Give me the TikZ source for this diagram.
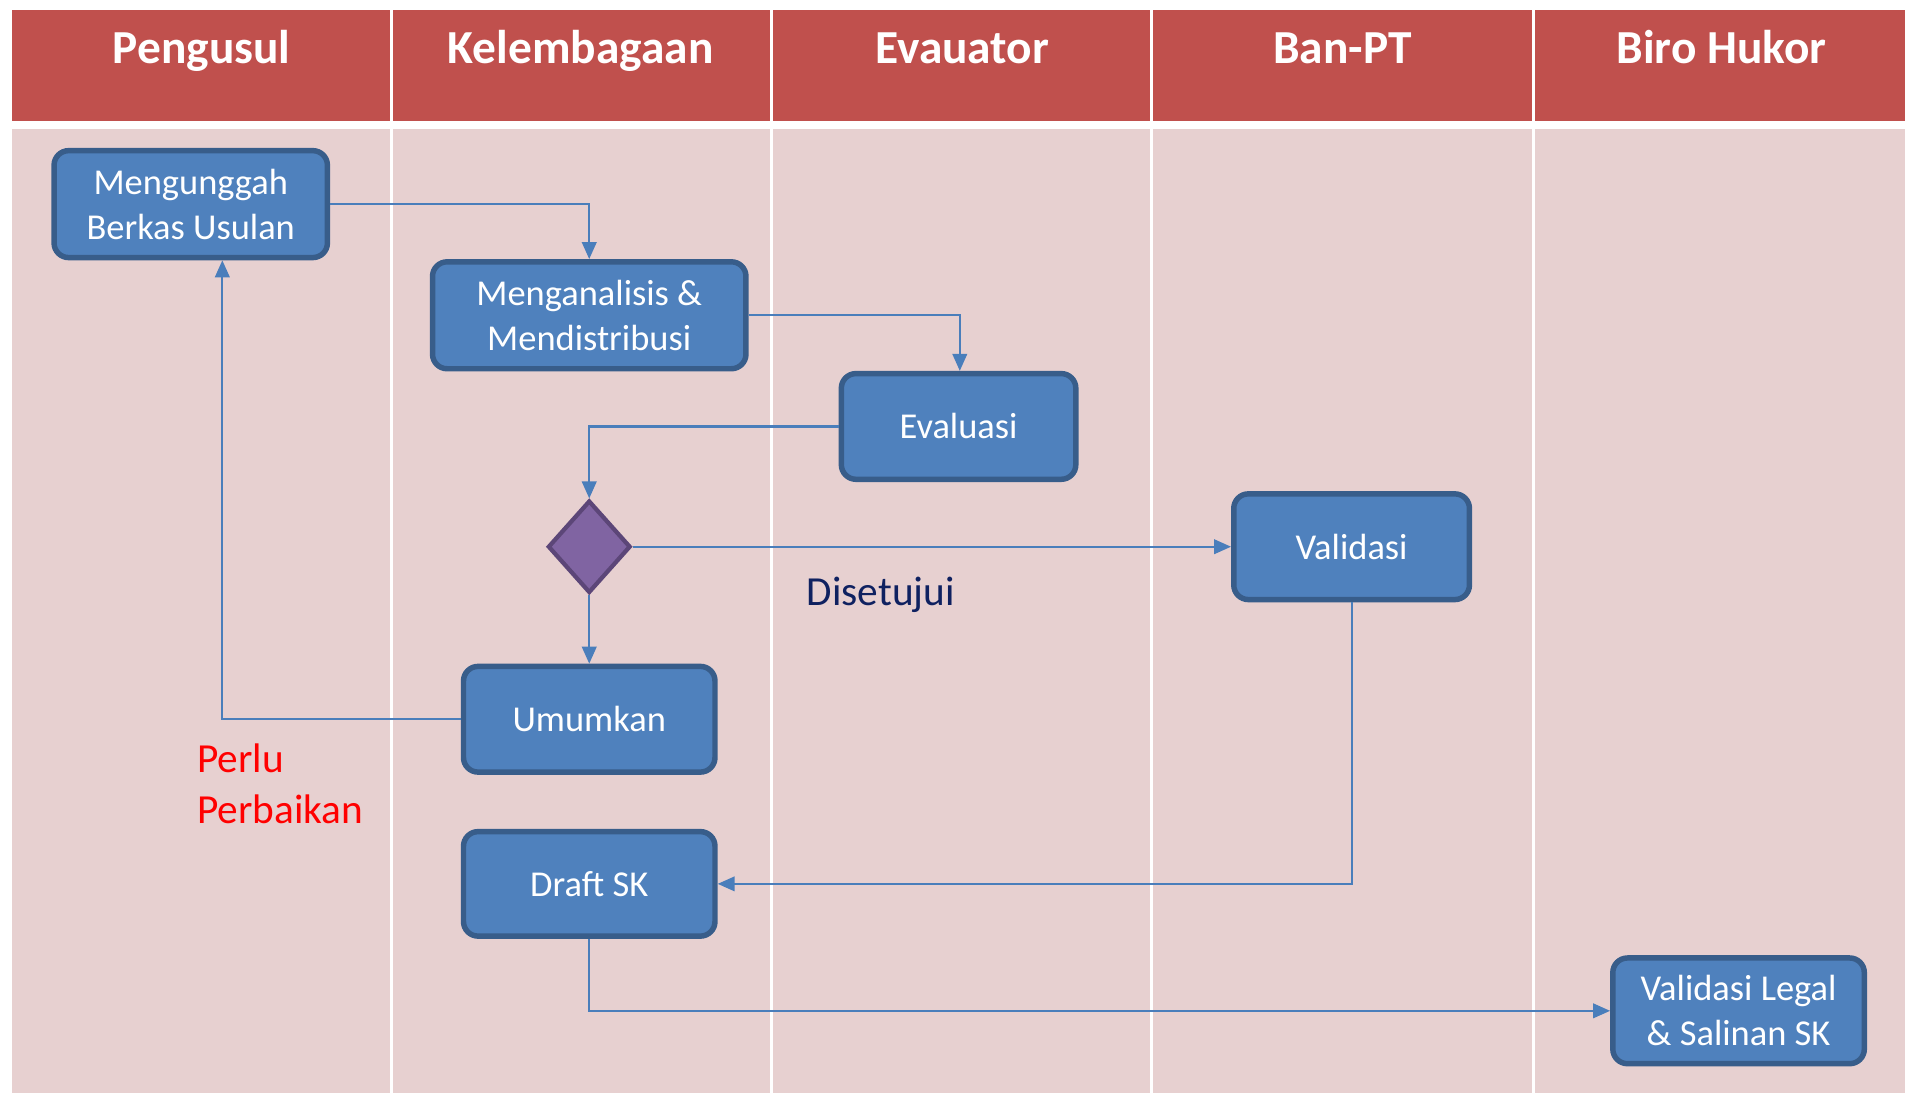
\documentclass[tikz,border=0pt]{standalone}
\usepackage{fontspec}
\setmainfont{Carlito}
\usepackage{xcolor}
\usetikzlibrary{shapes.geometric,arrows.meta,calc}
\definecolor{laneRed}{HTML}{C0504D}
\definecolor{lanePink}{HTML}{E7D0D0}
\definecolor{boxFill}{HTML}{4F81BD}
\definecolor{boxLine}{HTML}{385D8A}
\definecolor{diaFill}{HTML}{8064A2}
\definecolor{diaLine}{HTML}{5C4678}
\definecolor{flowLine}{HTML}{4A7EBB}
\definecolor{navyText}{HTML}{0F2160}
\tikzset{
    procbox/.style={draw=boxLine, fill=boxFill, rounded corners=12pt, line width=4.5pt,
        text=white, font=\fontsize{30}{37}\selectfont, align=center, inner sep=0pt},
    flow/.style={draw=flowLine, line width=1.8pt, -{Triangle[length=14pt,width=12pt]}},
    lanetitle/.style={text=white, font=\fontsize{39}{45}\selectfont\bfseries, anchor=base}
}
\begin{document}
\begin{tikzpicture}[x=1pt,y=-1pt]
        \useasboundingbox (0,0) rectangle (1568,900);
        \fill[laneRed] (10,8) rectangle (1568,100);
        \fill[lanePink] (10,106) rectangle (1568,900);
        \foreach \x in {322, 635, 948, 1262} {
            \draw[white, line width=2.5pt] (\x,8) -- (\x,900);
        }
        \node[lanetitle] (tPengusul) at (166,52) {Pengusul};
        \node[lanetitle] (tKelembagaan) at (478,52) {Kelembagaan};
        \node[lanetitle] (tEvauator) at (792,52) {Evauator};
        \node[lanetitle] (tBanpt) at (1105,52) {Ban-PT};
        \node[lanetitle] (tBiro) at (1417,52) {Biro Hukor};

        \node[procbox, minimum width=225pt, minimum height=88pt] (unggah) at (157,168) {Mengunggah\\Berkas Usulan};
        \node[procbox, minimum width=258pt, minimum height=88pt] (analisis) at (485,259.5) {Menganalisis \&\\Mendistribusi};
        \node[procbox, minimum width=193pt, minimum height=87pt] (evaluasi) at (789,351) {Evaluasi};
        \node[draw=diaLine, fill=diaFill, line width=3.5pt, diamond, minimum width=68pt, minimum height=76pt, inner sep=0pt] (keputusan) at (485,450) {};
        \node[procbox, minimum width=194pt, minimum height=87pt] (validasi) at (1112.5,450) {Validasi};
        \node[procbox, minimum width=207pt, minimum height=87pt] (umumkan) at (485,592) {Umumkan};
        \node[procbox, minimum width=207pt, minimum height=86pt] (draft) at (485,727.5) {Draft SK};
        \node[procbox, minimum width=207pt, minimum height=87pt] (legal) at (1431,832) {Validasi Legal\\\& Salinan SK};

        \node[text=navyText, font=\fontsize{34}{41}\selectfont] (setuju) at (725,490) {Disetujui};
        \node[text=red, font=\fontsize{34}{42}\selectfont, align=left, anchor=west, inner sep=0pt] (perbaikan) at (162,645) {Perlu\\Perbaikan};

        \draw[flow] (unggah.east) -| (analisis.north);
        \draw[flow] (analisis.east) -| ([xshift=1pt]evaluasi.north);
        \draw[flow] (evaluasi.west) -| (keputusan.north);
        \draw[flow] (keputusan.east) -- (validasi.west);
        \draw[flow] (keputusan.south) -- (umumkan.north);
        \draw[flow] (umumkan.west) -| ([xshift=26pt]unggah.south);
        \draw[flow] (validasi.south) |- (draft.east);
        \draw[flow] (draft.south) |- (legal.west);
    \end{tikzpicture}
\end{document}
